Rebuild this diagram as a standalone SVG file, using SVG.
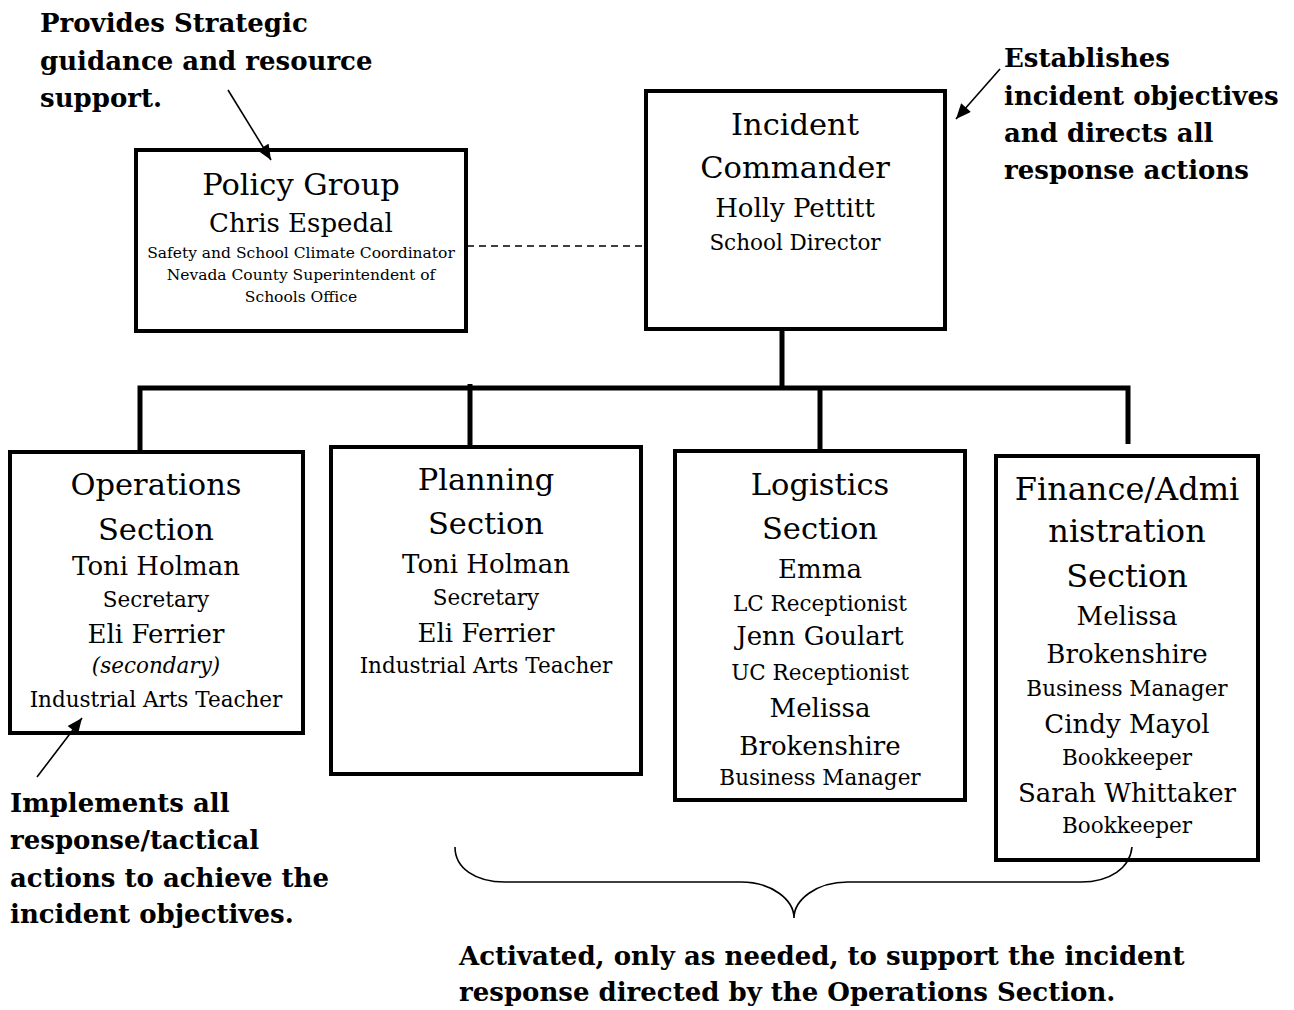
<svg xmlns="http://www.w3.org/2000/svg" width="1294" height="1010" viewBox="0 0 1294 1010">
  <defs>
    <marker id="ahL" viewBox="0 0 14 12" refX="14" refY="6" markerWidth="16" markerHeight="13" markerUnits="userSpaceOnUse" orient="auto">
      <path d="M0,0 L14,6 L0,12 z" fill="#000"/>
    </marker>
  </defs>
  <style>
    .box { fill: #fff; stroke: #000; stroke-width: 4; }
    .t { font-family: "DejaVu Serif", "Liberation Serif", serif; fill: #000; text-anchor: middle; }
    .h { font-size: 30.5px; }
    .n { font-size: 26px; }
    .r { font-size: 21.5px; }
    .s { font-size: 15.5px; }
    .it { font-style: italic; }
    .note { font-family: "DejaVu Serif", "Liberation Serif", serif; font-weight: bold; font-size: 26px; fill: #000; }
    .bus { stroke: #000; stroke-width: 5; fill: none; }
    .arr { stroke: #000; stroke-width: 1.6; fill: none; }
  </style>
  <rect width="1294" height="1010" fill="#fff"/>

  <g id="policy-group">
    <rect class="box" x="136" y="150" width="330" height="181"/>
    <text class="t h" x="301" y="195">Policy Group</text>
    <text class="t n" x="301" y="232">Chris Espedal</text>
    <text class="t s" x="301" y="258">Safety and School Climate Coordinator</text>
    <text class="t s" x="301" y="280">Nevada County Superintendent of</text>
    <text class="t s" x="301" y="302">Schools Office</text>
  </g>

  <g id="incident-commander">
    <rect class="box" x="646" y="91" width="299" height="238"/>
    <text class="t h" x="795" y="135">Incident</text>
    <text class="t h" x="795" y="178">Commander</text>
    <text class="t n" x="795" y="217">Holly Pettitt</text>
    <text class="t r" x="795" y="250">School Director</text>
  </g>

  <g id="operations-section">
    <rect class="box" x="10" y="452" width="293" height="281"/>
    <text class="t h" x="156" y="495">Operations</text>
    <text class="t h" x="156" y="540">Section</text>
    <text class="t n" x="156" y="575">Toni Holman</text>
    <text class="t r" x="156" y="607">Secretary</text>
    <text class="t n" x="156" y="643">Eli Ferrier</text>
    <text class="t r it" x="156" y="673">(secondary)</text>
    <text class="t r" x="156" y="707">Industrial Arts Teacher</text>
  </g>

  <g id="planning-section">
    <rect class="box" x="331" y="447" width="310" height="327"/>
    <text class="t h" x="486" y="490">Planning</text>
    <text class="t h" x="486" y="534">Section</text>
    <text class="t n" x="486" y="573">Toni Holman</text>
    <text class="t r" x="486" y="605">Secretary</text>
    <text class="t n" x="486" y="642">Eli Ferrier</text>
    <text class="t r" x="486" y="673">Industrial Arts Teacher</text>
  </g>

  <g id="logistics-section">
    <rect class="box" x="675" y="451" width="290" height="349"/>
    <text class="t h" x="820" y="495">Logistics</text>
    <text class="t h" x="820" y="539">Section</text>
    <text class="t n" x="820" y="578">Emma</text>
    <text class="t r" x="820" y="611">LC Receptionist</text>
    <text class="t n" x="820" y="645">Jenn Goulart</text>
    <text class="t r" x="820" y="680">UC Receptionist</text>
    <text class="t n" x="820" y="717">Melissa</text>
    <text class="t n" x="820" y="755">Brokenshire</text>
    <text class="t r" x="820" y="785">Business Manager</text>
  </g>

  <g id="finance-admin-section">
    <rect class="box" x="996" y="456" width="262" height="404"/>
    <text class="t h" x="1127" y="500" style="font-size:32px">Finance/Admi</text>
    <text class="t h" x="1127" y="542" style="font-size:32px">nistration</text>
    <text class="t h" x="1127" y="587" style="font-size:32px">Section</text>
    <text class="t n" x="1127" y="625">Melissa</text>
    <text class="t n" x="1127" y="663">Brokenshire</text>
    <text class="t r" x="1127" y="696">Business Manager</text>
    <text class="t n" x="1127" y="733">Cindy Mayol</text>
    <text class="t r" x="1127" y="765">Bookkeeper</text>
    <text class="t n" x="1127" y="802">Sarah Whittaker</text>
    <text class="t r" x="1127" y="833">Bookkeeper</text>
  </g>

  <g id="connectors">
    <line class="arr" x1="467" y1="246" x2="645" y2="246" stroke-dasharray="7,5" stroke-width="1.5"/>
    <line class="bus" x1="782" y1="331" x2="782" y2="388"/>
    <polyline class="bus" points="140,450 140,388 1128,388 1128,444"/>
    <line class="bus" x1="470" y1="384" x2="470" y2="445"/>
    <line class="bus" x1="820" y1="388" x2="820" y2="449"/>
    <line class="arr" x1="228" y1="90" x2="271" y2="160" marker-end="url(#ahL)"/>
    <line class="arr" x1="1000" y1="69" x2="956" y2="119" marker-end="url(#ahL)"/>
    <line class="arr" x1="37" y1="777" x2="82" y2="718" marker-end="url(#ahL)"/>
    <path class="arr" stroke-width="2" d="M455,847 C455,868 475,882 505,882 L741,882 C772,882 794,900 794,918 C794,900 816,882 848,882 L1081,882 C1110,882 1130,868 1132,847"/>
  </g>

  <g id="annotation-policy">
    <text class="note" x="40" y="32">Provides Strategic</text>
    <text class="note" x="40" y="70">guidance and resource</text>
    <text class="note" x="40" y="107">support.</text>
  </g>

  <g id="annotation-ic">
    <text class="note" x="1004" y="67">Establishes</text>
    <text class="note" x="1004" y="105">incident objectives</text>
    <text class="note" x="1004" y="142">and directs all</text>
    <text class="note" x="1004" y="179">response actions</text>
  </g>

  <g id="annotation-operations">
    <text class="note" x="10" y="812">Implements all</text>
    <text class="note" x="10" y="849">response/tactical</text>
    <text class="note" x="10" y="887">actions to achieve the</text>
    <text class="note" x="10" y="923">incident objectives.</text>
  </g>

  <g id="annotation-brace">
    <text class="note" x="459" y="965">Activated, only as needed, to support the incident</text>
    <text class="note" x="459" y="1001">response directed by the Operations Section.</text>
  </g>
</svg>
